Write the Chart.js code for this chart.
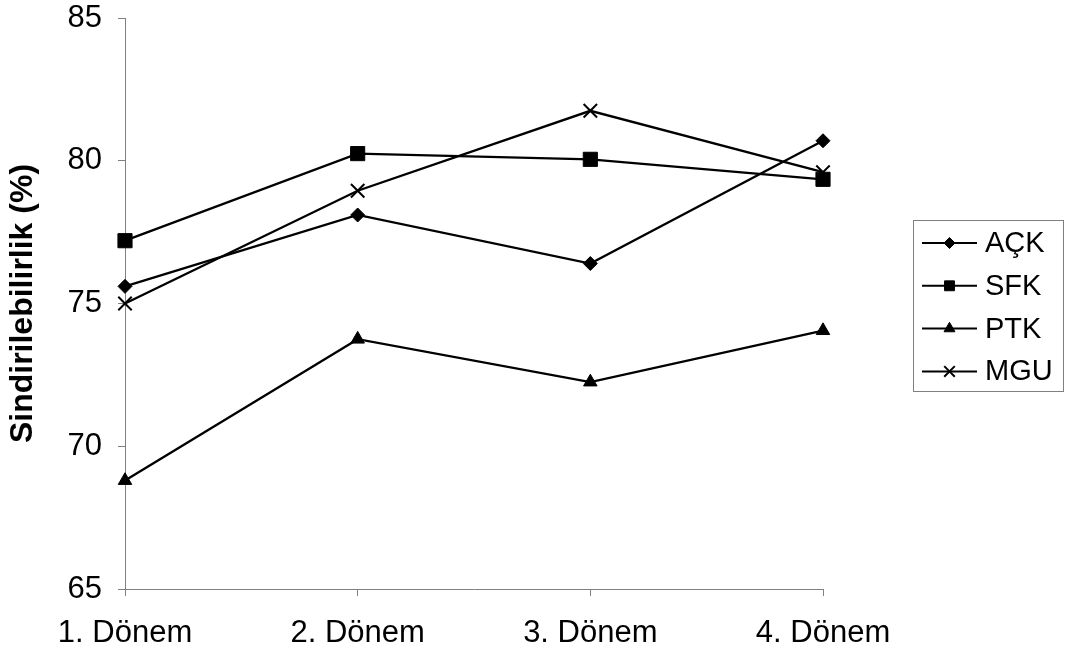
<!DOCTYPE html>
<html lang="tr">
<head>
<meta charset="utf-8">
<title>Sindirilebilirlik (%)</title>
<script src="https://cdn.jsdelivr.net/npm/chart.js@4/dist/chart.umd.min.js"></script>
<style>
  html, body { margin: 0; padding: 0; background: #ffffff; }
  #wrap { width: 1070px; height: 652px; }
  canvas { display: block; }
</style>
</head>
<body>
<div id="wrap"><canvas id="chart" width="1070" height="652"></canvas></div>
<script>
// Periods on the x axis
const categories = ['1. Dönem', '2. Dönem', '3. Dönem', '4. Dönem'];

// Digestibility (%) per group and period
const ackValues = [75.6, 78.1, 76.4, 80.7];
const sfkValues = [77.2, 80.25, 80.05, 79.35];
const ptkValues = [68.8, 73.75, 72.25, 74.05];
const mguValues = [75.0, 78.95, 81.75, 79.6];

// Value axis
const yTicks = [65, 70, 75, 80, 85];
const yTitle = 'Sindirilebilirlik (%)';

const FONT = "'Liberation Sans', Arial, sans-serif";
const AXIS_GRAY = '#808080';

const series = [
  { label: 'AÇK', data: ackValues, pointStyle: 'rectRot', radius: 7, borderWidth: 1, legendRadius: 5.5 },
  { label: 'SFK', data: sfkValues, pointStyle: 'rect', radius: 10, borderWidth: 1, legendRadius: 7 },
  { label: 'PTK', data: ptkValues, pointStyle: 'triangle', radius: 7.8, borderWidth: 1, legendRadius: 6.3 },
  { label: 'MGU', data: mguValues, pointStyle: 'crossRot', radius: 9.5, borderWidth: 2, legendRadius: 7.5 }
];

const datasets = series.map(s => ({
  label: s.label,
  data: s.data,
  borderColor: '#000000',
  backgroundColor: '#000000',
  borderWidth: 2.3,
  tension: 0,
  pointStyle: s.pointStyle,
  pointRadius: s.radius,
  pointHoverRadius: s.radius,
  pointBackgroundColor: '#000000',
  pointBorderColor: '#000000',
  pointBorderWidth: s.borderWidth,
  legendRadius: s.legendRadius
}));

// Boxed legend on the right: line-through-marker samples with labels
const boxedLegend = {
  id: 'boxedLegend',
  afterDraw(chart) {
    const ctx = chart.ctx;
    const box = { x: 913.5, y: 220.5, w: 150, h: 171 };
    ctx.save();
    ctx.strokeStyle = AXIS_GRAY;
    ctx.lineWidth = 1;
    ctx.strokeRect(box.x, box.y, box.w, box.h);

    const lineX0 = 922, lineX1 = 977, textX = 985;
    const firstY = 243, step = 42.8;
    chart.data.datasets.forEach((ds, i) => {
      const y = firstY + i * step;
      ctx.strokeStyle = '#000000';
      ctx.fillStyle = '#000000';
      ctx.lineWidth = 2;
      ctx.beginPath();
      ctx.moveTo(lineX0, y);
      ctx.lineTo(lineX1, y);
      ctx.stroke();

      const mx = (lineX0 + lineX1) / 2;
      if (Chart.helpers && Chart.helpers.drawPoint) {
        ctx.lineWidth = ds.pointBorderWidth;
        Chart.helpers.drawPoint(ctx, {
          pointStyle: ds.pointStyle,
          radius: ds.legendRadius,
          rotation: 0,
          borderWidth: ds.pointBorderWidth
        }, mx, y);
      }

      ctx.font = '29px ' + FONT;
      ctx.textAlign = 'left';
      ctx.textBaseline = 'middle';
      ctx.fillStyle = '#000000';
      ctx.fillText(ds.label, textX, y + 1);
    });
    ctx.restore();
  }
};

new Chart(document.getElementById('chart'), {
  type: 'line',
  data: { labels: categories, datasets: datasets },
  options: {
    responsive: false,
    animation: false,
    devicePixelRatio: 1,
    layout: { padding: { top: 18, right: 247, bottom: 0, left: 0 } },
    plugins: {
      legend: { display: false },
      tooltip: { enabled: false },
      title: { display: false }
    },
    scales: {
      x: {
        type: 'category',
        offset: false,
        grid: {
          drawOnChartArea: false,
          drawTicks: true,
          tickLength: 7,
          color: AXIS_GRAY,
          lineWidth: 1
        },
        border: { display: true, color: AXIS_GRAY, width: 1 },
        ticks: {
          color: '#000000',
          padding: 19,
          maxRotation: 0,
          autoSkip: false,
          font: { family: FONT, size: 31, lineHeight: 1.2 }
        },
        afterFit(scale) {
          scale.height = 63;
          scale.paddingLeft = 0;
          scale.paddingRight = 0;
        }
      },
      y: {
        min: yTicks[0],
        max: yTicks[yTicks.length - 1],
        afterBuildTicks(scale) { scale.ticks = yTicks.map(v => ({ value: v })); },
        grid: {
          drawOnChartArea: false,
          drawTicks: true,
          tickLength: 7,
          color: AXIS_GRAY,
          lineWidth: 1
        },
        border: { display: true, color: AXIS_GRAY, width: 1 },
        ticks: {
          color: '#000000',
          padding: 16,
          font: { family: FONT, size: 31, lineHeight: 1 }
        },
        title: {
          display: true,
          text: yTitle,
          color: '#000000',
          padding: { top: 4, bottom: 4 },
          font: { family: FONT, size: 32, weight: 'bold', lineHeight: 1.2 }
        },
        afterFit(scale) {
          scale.width = 125;
          scale.paddingTop = 0;
          scale.paddingBottom = 0;
        }
      }
    }
  },
  plugins: [boxedLegend]
});
</script>
</body>
</html>
